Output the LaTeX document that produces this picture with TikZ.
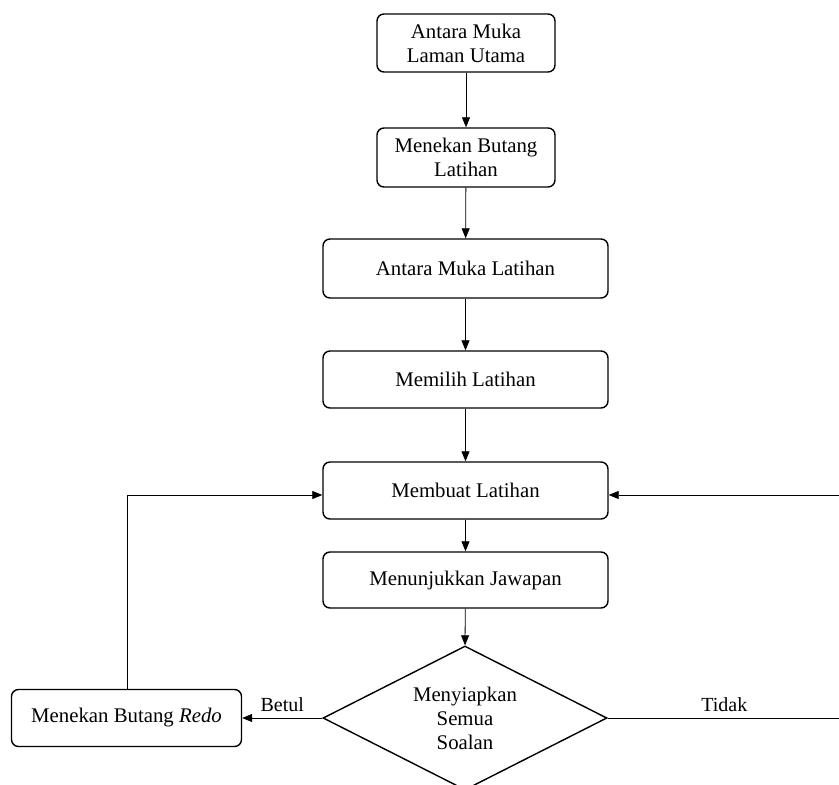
\documentclass[tikz,border=0pt]{standalone}
\usepackage{fontspec}
\setmainfont{Liberation Serif}
\usetikzlibrary{shapes.geometric,arrows.meta}
\begin{document}
\begin{tikzpicture}[x=1bp,y=-1bp,
  every node/.style={font=\fontsize{20.8bp}{24bp}\selectfont, align=center, inner sep=0pt},
  stepbox/.style={draw, line width=1.4bp, rounded corners=7bp},
  decision/.style={draw, line width=1.4bp, diamond, aspect=1.97, inner sep=0pt},
  flow/.style={line width=0.8bp, -{Triangle[length=10bp,width=8bp]}},
  lbl/.style={font=\fontsize{20bp}{22bp}\selectfont}]
\useasboundingbox (0,0) rectangle (839,785);
\node[stepbox, minimum width=178bp, minimum height=58bp] (b1) at (466,43) {Antara Muka\\Laman Utama};
\node[stepbox, minimum width=178bp, minimum height=59bp] (b2) at (466,157.5) {Menekan Butang\\Latihan};
\node[stepbox, minimum width=285bp, minimum height=59bp] (b3) at (465.5,268.5) {Antara Muka Latihan};
\node[stepbox, minimum width=285bp, minimum height=57bp] (b4) at (465.5,379.5) {Memilih Latihan};
\node[stepbox, minimum width=285bp, minimum height=57bp] (b5) at (465.5,490.5) {Membuat Latihan};
\node[stepbox, minimum width=285bp, minimum height=56bp] (b6) at (465.5,580) {Menunjukkan Jawapan};
\node[decision, minimum width=284bp, minimum height=144bp] (d) at (465,718) {Menyiapkan\\Semua\\Soalan};
\node[stepbox, minimum width=230bp, minimum height=57bp] (r) at (126.5,718) {Menekan Butang \textit{Redo}};
\coordinate (lup) at (127,495);
\coordinate (rc) at (841,718);
\coordinate (ru) at (841,495);
\draw[flow] (b1) -- (b2);
\draw[flow] (b2) -- (b3);
\draw[flow] (b3) -- (b4);
\draw[flow] (b4) -- (b5);
\draw[flow] (b5) -- (b6);
\draw[flow] (b6) -- (d.north);
\draw[flow] (d.west) -- node[lbl, above=6bp] {Betul} (r.east);
\draw[flow] (r.north -| lup) -- (lup) -- (lup -| b5.west);
\draw[flow] (d.east) -- node[lbl, above=6bp, pos=0.5] {Tidak} (rc) -- (ru) -- (ru -| b5.east);
\end{tikzpicture}
\end{document}
